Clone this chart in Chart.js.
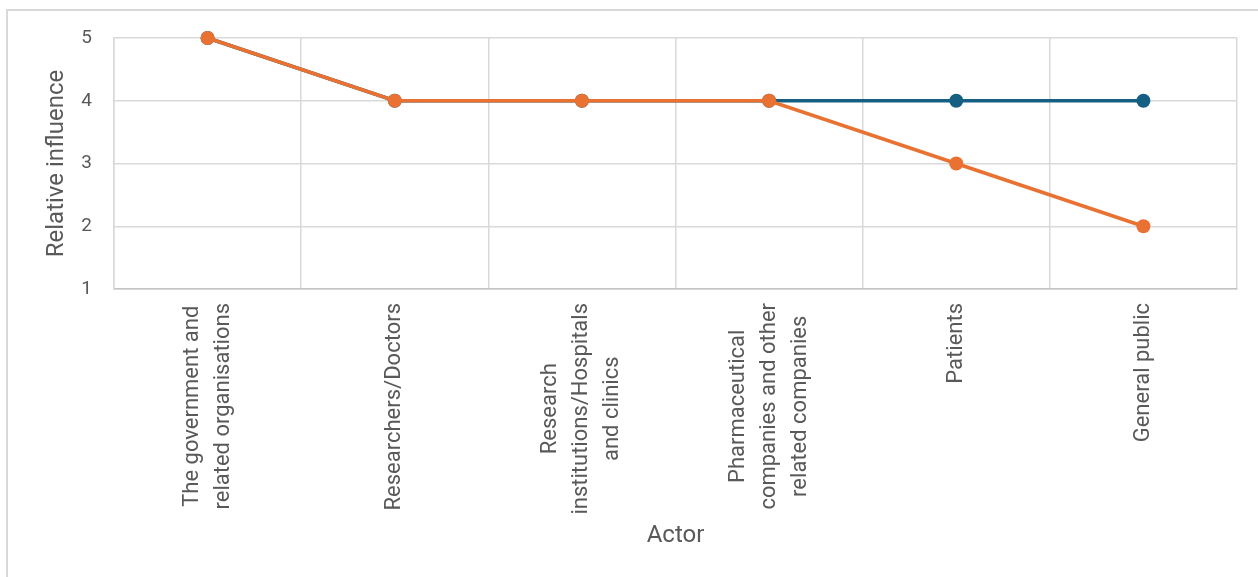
<!DOCTYPE html>
<html>
<head>
<meta charset="utf-8">
<script src="https://cdn.jsdelivr.net/npm/chart.js@4/dist/chart.umd.min.js"></script>
<style>
  html, body { margin: 0; padding: 0; background: #fff; overflow: hidden; }
  #frame { position: absolute; left: 6px; top: 9px; width: 1400px; height: 700px;
           border-left: 2px solid #d9d9d9; border-top: 2px solid #d9d9d9; }
  #chart { position: absolute; left: 0; top: 0; }
</style>
</head>
<body>
<div id="frame"></div>
<canvas id="chart" width="1258" height="577"></canvas>
<script>
// ===============================
// DATA
// ===============================
const actors = [
  ["The government and", "related organisations"],
  ["Researchers/Doctors"],
  ["Research", "institutions/Hospitals", "and clinics"],
  ["Pharmaceutical", "companies and other", "related companies"],
  ["Patients"],
  ["General public"]
];
const serieAzul = [5, 4, 4, 4, 4, 4];
const serieNaranja = [5, 4, 4, 4, 3, 2];
const yTicks = [1, 2, 3, 4, 5];

const gris = "#595959";
const rejilla = "#d9d9d9";

// ===============================
// ETIQUETAS DEL EJE X (rotadas, centradas por línea)
// ===============================
const xLabelPlugin = {
  id: "xLabels",
  afterDraw(chart) {
    const ctx = chart.ctx;
    const scale = chart.scales.x;
    ctx.save();
    ctx.font = "22px Roboto";
    ctx.fillStyle = gris;
    ctx.textAlign = "center";
    ctx.textBaseline = "middle";
    actors.forEach((lines, i) => {
      const x = scale.getPixelForValue(i);
      const widest = Math.max(...lines.map(l => ctx.measureText(l).width));
      const mid = scale.top + 14 + widest / 2;
      lines.forEach((line, k) => {
        ctx.save();
        ctx.translate(x + (k - (lines.length - 1) / 2) * 31, mid);
        ctx.rotate(-Math.PI / 2);
        ctx.fillText(line, 0, 0);
        ctx.restore();
      });
    });
    ctx.restore();
  }
};

// ===============================
// GRÁFICA
// ===============================
new Chart(document.getElementById("chart"), {
  type: "line",
  data: {
    labels: actors,
    datasets: [
      {
        label: "Series 1",
        data: serieAzul,
        borderColor: "#156082",
        backgroundColor: "#156082",
        borderWidth: 3.5,
        pointRadius: 7,
        pointBorderWidth: 0,
        pointHoverRadius: 7,
        clip: false,
        order: 2
      },
      {
        label: "Series 2",
        data: serieNaranja,
        borderColor: "#E97132",
        backgroundColor: "#E97132",
        borderWidth: 3.5,
        pointRadius: 7,
        pointBorderWidth: 0,
        pointHoverRadius: 7,
        clip: false,
        order: 1
      }
    ]
  },
  options: {
    responsive: false,
    animation: false,
    layout: { padding: { left: 0, right: 21, top: 38, bottom: 0 } },
    plugins: { legend: { display: false }, tooltip: { enabled: false } },
    scales: {
      x: {
        offset: true,
        grid: { offset: true, color: rejilla, lineWidth: 1.5, drawTicks: false },
        border: { color: "#c4c4c4", width: 1.5 },
        ticks: { display: false },
        title: {
          display: true,
          text: "Actor",
          color: gris,
          font: { family: "Roboto", size: 24 },
          padding: { top: 0, bottom: 27 }
        },
        afterFit(scale) { scale.height = 288; }
      },
      y: {
        min: 1,
        max: 5,
        afterBuildTicks(scale) { scale.ticks = yTicks.map(v => ({ value: v })); },
        grid: { color: rejilla, lineWidth: 1.5, drawTicks: false },
        border: { color: rejilla, width: 1.5 },
        ticks: { color: gris, padding: 22, font: { family: "Roboto", size: 19 } },
        title: {
          display: true,
          text: "Relative influence",
          color: gris,
          font: { family: "Roboto", size: 24 },
          padding: { top: 43, bottom: 0 }
        },
        afterFit(scale) { scale.width = 114; }
      }
    }
  },
  plugins: [xLabelPlugin]
});
</script>
</body>
</html>
